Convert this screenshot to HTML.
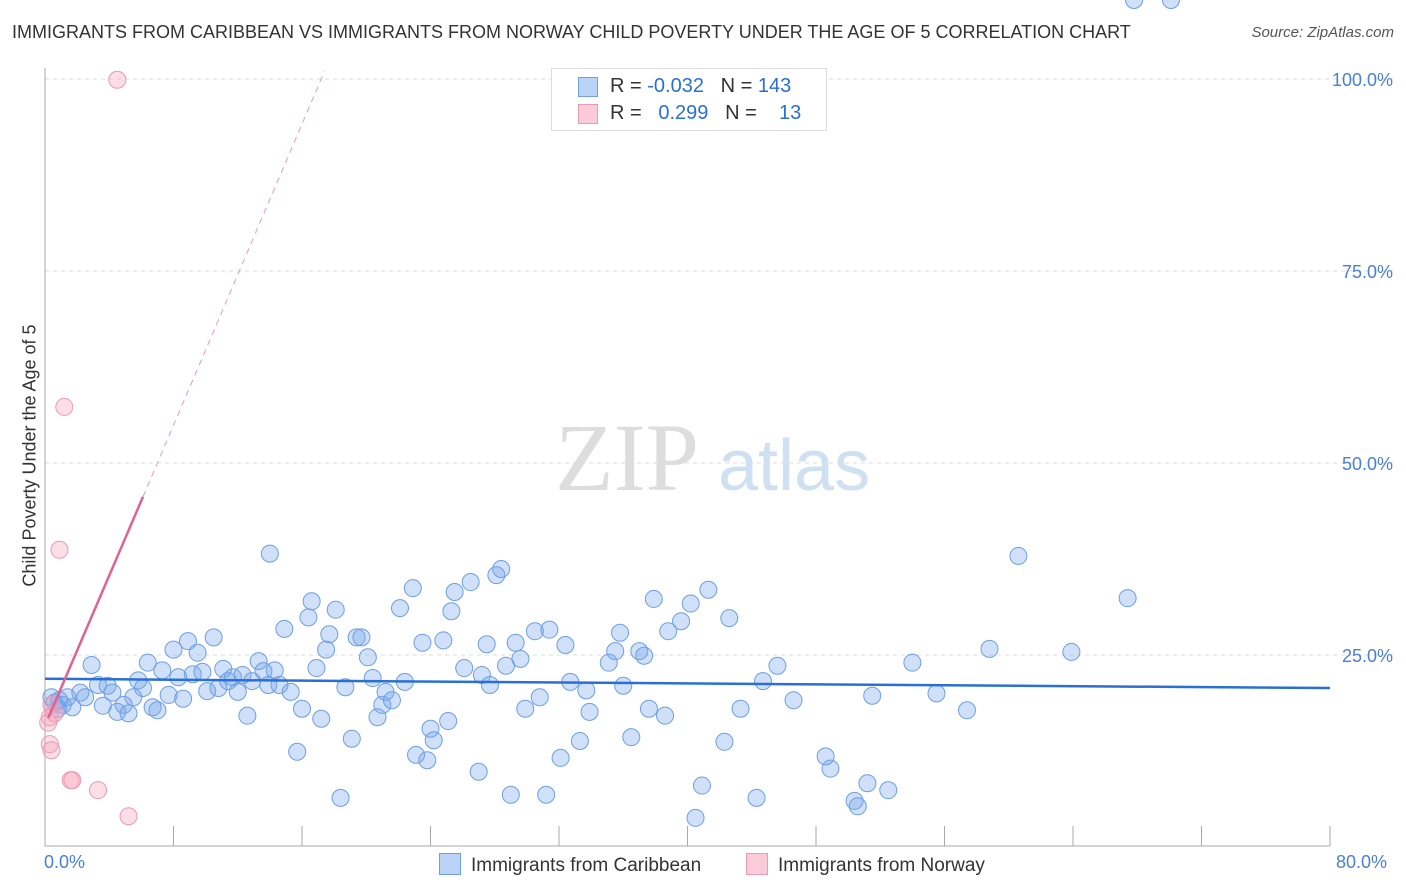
<!DOCTYPE html>
<html><head><meta charset="utf-8"><style>
body{margin:0;background:#fff;font-family:"Liberation Sans",sans-serif;}
#wrap{position:relative;width:1406px;height:892px;overflow:hidden;}
.t{position:absolute;white-space:nowrap;}
</style></head><body>
<div id="wrap">
<div class="t" style="left:12px;top:22px;font-size:18px;color:#333;">IMMIGRANTS FROM CARIBBEAN VS IMMIGRANTS FROM NORWAY CHILD POVERTY UNDER THE AGE OF 5 CORRELATION CHART</div>
<div class="t" style="right:12px;top:24px;font-size:15px;color:#555;font-style:italic;">Source: ZipAtlas.com</div>
<svg id="svg" width="1406" height="892" style="position:absolute;left:0;top:0"></svg>
</div>
<script>
const xTicksPct=[0,10,20,30,40,50,60,70,80];
const yTicks=[25,50,75,100];
const yTickLabels=["25.0%","50.0%","75.0%","100.0%"];
const caribX=[0.4,0.6,0.9,1.1,0.8,1.4,1.7,2.2,2.5,2.9,3.3,3.6,3.9,4.2,4.5,4.9,5.2,5.5,5.8,6.1,6.4,6.7,7.0,7.3,7.7,8.0,8.3,8.6,8.9,9.2,9.5,9.8,10.1,10.5,10.8,11.1,11.4,11.7,12.0,12.3,12.6,12.9,13.3,13.6,13.9,14.0,14.3,14.6,14.9,15.3,15.7,16.0,16.4,16.6,16.9,17.2,17.5,17.7,18.1,18.4,18.7,19.1,19.4,19.7,20.1,20.4,20.7,21.0,21.2,21.6,22.1,22.4,22.9,23.1,23.5,23.8,24.0,24.2,24.8,25.1,25.3,25.5,26.1,26.5,27.0,27.2,27.5,27.7,28.1,28.4,28.7,29.0,29.3,29.6,29.9,30.5,30.8,31.2,31.4,32.1,32.4,32.7,33.3,33.7,33.9,35.1,35.5,35.8,36.0,36.5,37.0,37.3,37.6,37.9,38.6,38.8,39.6,40.2,40.5,40.9,41.3,42.3,42.6,43.3,44.3,44.7,45.6,46.6,48.9,48.6,50.4,50.6,51.2,51.5,52.5,54.0,55.5,57.4,58.8,60.6,63.9,67.4,67.8,70.1];
const caribY=[19.5,18.8,19.1,18.5,18.0,19.5,18.2,20.1,19.5,23.7,21.1,18.4,21.0,20.1,17.6,18.5,17.4,19.5,21.7,20.7,24.0,18.2,17.8,23.0,19.8,25.7,22.1,19.3,26.8,22.5,25.3,22.8,20.3,27.3,20.7,23.2,21.6,22.1,20.2,22.4,17.1,21.6,24.2,22.9,21.1,38.2,23.0,21.1,28.4,20.2,12.4,18.0,29.9,32.0,23.3,16.7,25.7,27.7,30.9,6.4,20.8,14.1,27.3,27.3,24.7,22.0,16.9,18.5,20.2,19.1,31.1,21.5,33.7,12.0,26.6,11.3,15.4,13.9,26.9,16.4,30.7,33.2,23.3,34.5,9.8,22.4,26.4,21.1,35.4,36.2,23.6,6.8,26.6,24.5,18.0,28.1,19.5,6.8,28.3,11.6,26.3,21.5,13.8,20.4,17.6,24.0,25.5,27.9,21.0,14.3,25.5,24.9,18.0,32.3,17.1,28.1,29.4,31.7,3.8,8.0,33.5,13.7,29.8,18.0,6.4,21.6,23.6,19.1,10.2,11.8,6.0,5.3,8.3,19.7,7.4,24.0,20.0,17.8,25.8,37.9,25.4,32.4];
const norX=[4.5,1.2,0.9,0.4,0.6,0.3,0.2,0.3,0.4,1.6,1.7,3.3,5.2];
const norY=[99.9,57.3,38.7,18.5,17.4,16.9,16.2,13.4,12.6,8.7,8.7,7.4,4.0];
const caribTrend=[21.9,20.7];
const norTrend=[16.8,45.6,101];
const norTrendX=[0.2,6.1,17.4];

const svg=document.getElementById('svg');
const NS='http://www.w3.org/2000/svg';
const X=v=>45+v*(1285/80);
const Y=v=>847-v*7.68;
function mk(tag,attrs,name){const e=document.createElementNS(NS,tag);for(const k in attrs)e.setAttribute(k,attrs[k]);


svg.appendChild(e);return e;}
yTicks.forEach((t,i)=>{
 mk('line',{x1:45,x2:1395,y1:Y(t),y2:Y(t),stroke:'#ddd','stroke-dasharray':'4,4'},'gridline-y');
 const tx=mk('text',{x:1393,y:Y(t)+7,'text-anchor':'end','font-size':18,fill:'#4a7fd6','font-family':'Liberation Sans'},'y-tick-label');tx.textContent=yTickLabels[i];
});
mk('line',{x1:45,x2:45,y1:68,y2:846},'y-axis');
svg.lastChild.setAttribute('stroke','#aaa');
mk('line',{x1:45,x2:1330,y1:846,y2:846,stroke:'#aaa'},'x-axis');
for(let i=0;i<=10;i++){mk('line',{x1:X(i*8),x2:X(i*8),y1:826,y2:846,stroke:'#aaa'},'x-tick');}
const wm=mk('text',{x:555,y:490,'font-size':96,fill:'#ddd','font-family':'Liberation Serif'},'watermark-zip');wm.textContent='ZIP';
const wm2=mk('text',{x:718,y:490,'font-size':72,fill:'#cfe0f3','font-family':'Liberation Sans'},'watermark-atlas');wm2.textContent='atlas';
caribX.forEach((v,i)=>mk('circle',{cx:X(v),cy:Y(caribY[i]),r:8.5,fill:'rgba(120,165,235,0.35)',stroke:'#6d9fe3','stroke-width':1},'caribbean-point'));
norX.forEach((v,i)=>mk('circle',{cx:X(v),cy:Y(norY[i]),r:8.5,fill:'rgba(245,160,185,0.35)',stroke:'#e99ab5','stroke-width':1},'norway-point'));
mk('line',{x1:X(0),x2:X(80),y1:Y(caribTrend[0]),y2:Y(caribTrend[1]),stroke:'#2a6fd6','stroke-width':2.5},'caribbean-trendline');
mk('line',{x1:X(norTrendX[0]),x2:X(norTrendX[1]),y1:Y(norTrend[0]),y2:Y(norTrend[1]),stroke:'#e0628f','stroke-width':2.5},'norway-trendline');
mk('line',{x1:X(norTrendX[1]),x2:X(norTrendX[2]),y1:Y(norTrend[1]),y2:Y(norTrend[2]),stroke:'#e89ab4','stroke-width':1,'stroke-dasharray':'6,5'},'norway-trendline-extension');
</script>
<div class="t" style="left:44px;top:852px;font-size:18px;color:#4a7fd6;">0.0%</div>
<div class="t" style="left:1336px;top:852px;font-size:18px;color:#4a7fd6;">80.0%</div>
<div class="t" style="left:-110px;top:445px;font-size:18px;color:#333;transform:rotate(-90deg);width:280px;text-align:center;">Child Poverty Under the Age of 5</div>
<div style="position:absolute;left:551px;top:68px;width:274px;height:61px;border:1px solid #ddd;background:#fff;font-size:20px;color:#333;">
 <div style="position:absolute;left:26px;top:8px;width:18px;height:18px;background:#b9d2f5;border:1px solid #6d9fe3"></div>
 <div class="t" style="left:58px;top:6px;">R = <span style="color:#2a6fd6">-0.032</span>&nbsp;&nbsp;&nbsp;N = <span style="color:#2a6fd6">143</span></div>
 <div style="position:absolute;left:26px;top:35px;width:18px;height:18px;background:#fbcbda;border:1px solid #e99ab5"></div>
 <div class="t" style="left:58px;top:33px;">R = &nbsp;&nbsp;<span style="color:#2a6fd6">0.299</span>&nbsp;&nbsp;&nbsp;N = &nbsp;&nbsp;&nbsp;<span style="color:#2a6fd6">13</span></div>
</div>
<div style="position:absolute;left:439px;top:853px;font-size:19px;color:#333;">
 <span style="display:inline-block;width:20px;height:20px;background:#b9d2f5;border:1px solid #6d9fe3;vertical-align:-4px;margin-right:10px"></span>Immigrants from Caribbean</div>
<div style="position:absolute;left:746px;top:853px;font-size:19px;color:#333;">
 <span style="display:inline-block;width:20px;height:20px;background:#fbcbda;border:1px solid #e99ab5;vertical-align:-4px;margin-right:10px"></span>Immigrants from Norway</div>
</body></html>
